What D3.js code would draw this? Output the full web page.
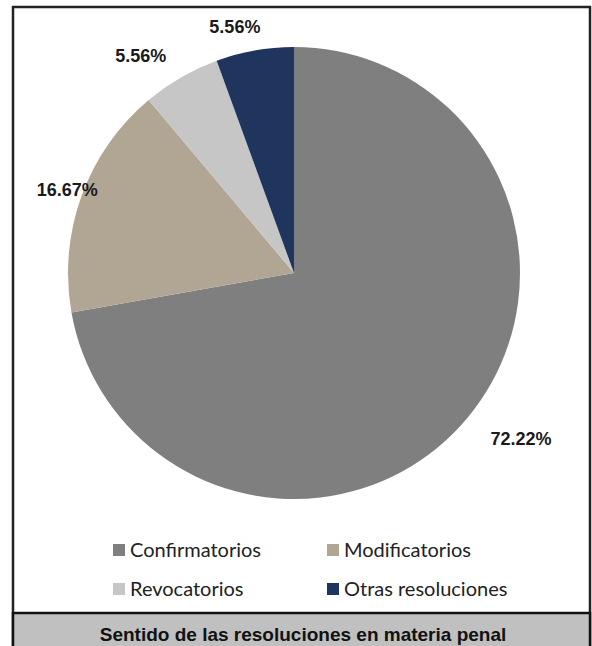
<!DOCTYPE html>
<html><head><meta charset="utf-8">
<script src="https://cdn.jsdelivr.net/npm/d3@7"></script>
<style>html,body{margin:0;padding:0;background:#fff;}</style>
</head><body>
<svg id="c" width="592" height="646"></svg>
<script>
const categories = ["Confirmatorios","Modificatorios","Revocatorios","Otras resoluciones"];
const values = [72.22, 16.67, 5.56, 5.56];
const labels = ["72.22%","16.67%","5.56%","5.56%"];
const colors = ["#7f7f7f","#b1a593","#c6c6c6","#1f355e"];
const title = "Sentido de las resoluciones en materia penal";

const svg = d3.select("#c");
// frame
svg.append("rect").attr("x",13).attr("y",7).attr("width",577).attr("height",650)
  .attr("fill","#fff").attr("stroke","#222").attr("stroke-width",2.5);
// title band
svg.append("rect").attr("x",13).attr("y",613).attr("width",577).attr("height",40)
  .attr("fill","#c0c0c0").attr("stroke","#111").attr("stroke-width",2.5);
svg.append("text").attr("x",303).attr("y",641).attr("text-anchor","middle")
  .attr("font-family","Liberation Sans, Arial, sans-serif").attr("font-weight","bold")
  .attr("font-size",19).attr("fill","#111").text(title);

const cx = 294, cy = 273, r = 226;
const pie = d3.pie().sort(null).value(d=>d);
const arcs = pie(values);
const arc = d3.arc().innerRadius(0).outerRadius(r);
const g = svg.append("g").attr("transform",`translate(${cx},${cy})`);
g.selectAll("path").data(arcs).enter().append("path")
  .attr("d",arc).attr("fill",(d,i)=>colors[i]);

// label placement: radial factor and angular shift (degrees) relative to slice mid-angle
const labelR = [1.244, 1.07, 1.175, 1.12];
const labelShift = [-3.8, 0.3, -5.2, -3.5];
const lblPos = arcs.map((a,i)=>{
  const m=(a.startAngle+a.endAngle)/2 + labelShift[i]*Math.PI/180;
  return [Math.sin(m)*r*labelR[i], -Math.cos(m)*r*labelR[i]];
});
g.selectAll("text.lbl").data(arcs).enter().append("text").attr("class","lbl")
  .attr("x",(d,i)=>lblPos[i][0]).attr("y",(d,i)=>lblPos[i][1])
  .attr("text-anchor","middle").attr("dy","0.35em")
  .attr("font-family","Liberation Sans, Arial, sans-serif").attr("font-weight","bold")
  .attr("font-size",18).attr("fill","#1a1a1a").text((d,i)=>labels[i]);

// legend
const legX = [113, 327], legY = [550, 589];
const leg = svg.selectAll("g.leg").data(categories).enter().append("g").attr("class","leg")
  .attr("transform",(d,i)=>`translate(${legX[i%2]},${legY[Math.floor(i/2)]})`);
leg.append("rect").attr("x",0).attr("y",-6).attr("width",12).attr("height",12)
  .attr("fill",(d,i)=>colors[i]);
leg.append("text").attr("x",17).attr("y",7)
  .attr("font-family","Lato, Carlito, sans-serif").attr("font-size",20).attr("fill","#222")
  .text(d=>d);
</script>
</body></html>
